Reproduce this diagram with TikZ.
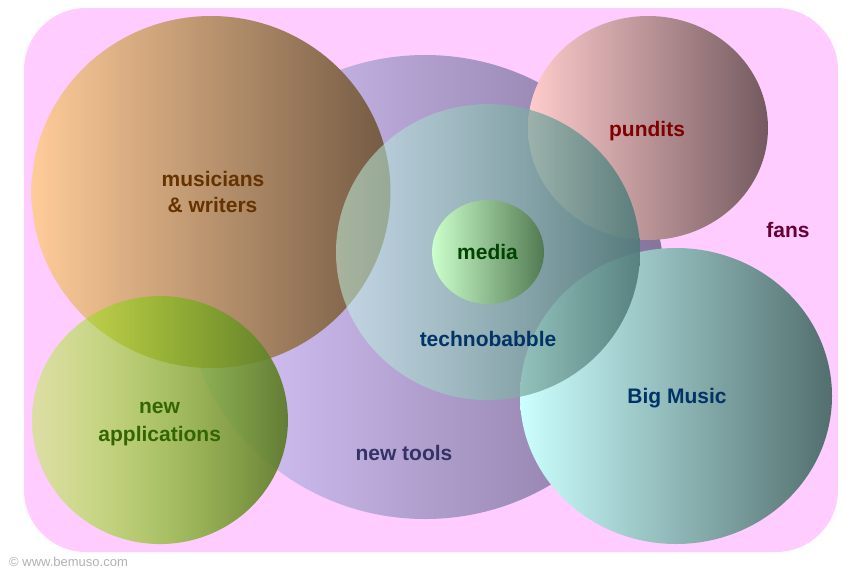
\documentclass[tikz,border=0pt]{standalone}
\usepackage{fontspec}
\setmainfont{Liberation Sans}
\usetikzlibrary{shapes.geometric,fadings}
\definecolor{bgpink}{HTML}{FFCCFF}
\definecolor{toolsL}{HTML}{DCCAFF}
\definecolor{toolsR}{HTML}{84749C}
\definecolor{musL}{HTML}{FFCC99}
\definecolor{musR}{HTML}{735A43}
\definecolor{punL}{HTML}{FFCCCC}
\definecolor{punR}{HTML}{735A60}
\definecolor{techL}{HTML}{C8FCEB}
\definecolor{techR}{HTML}{507A78}
\definecolor{medL}{HTML}{CCFFCC}
\definecolor{medR}{HTML}{527A52}
\definecolor{bigL}{HTML}{CCFFFF}
\definecolor{bigR}{HTML}{526E6E}
\definecolor{appL}{HTML}{A0FF00}
\definecolor{appM}{HTML}{94B040}
\definecolor{appR}{HTML}{5E7A2C}
\definecolor{tMus}{HTML}{663300}
\definecolor{tPun}{HTML}{800000}
\definecolor{tFans}{HTML}{660033}
\definecolor{tMed}{HTML}{004400}
\definecolor{tBlue}{HTML}{003366}
\definecolor{tApp}{HTML}{336600}
\definecolor{tTools}{HTML}{333366}
\tikzfading[name=techfade, left color=transparent!50, right color=transparent!10]
\tikzfading[name=appfade, left color=transparent!65, middle color=transparent!45, right color=transparent!5]
\tikzset{
  blob/.style={ellipse, inner sep=0pt, draw=none},
  lbl/.style={font=\bfseries\fontsize{21}{26}\selectfont, anchor=base, inner sep=0pt}
}
\begin{document}
\begin{tikzpicture}[x=1pt,y=-1pt]
\useasboundingbox (0,0) rectangle (864,576);
\fill[white] (0,0) rectangle (864,576);
\fill[bgpink, rounded corners=62pt] (24,8) rectangle (838,552);
% new tools
\node[blob, minimum width=480pt, minimum height=464pt, left color=toolsL, right color=toolsR] (tools) at (425,287) {};
% musicians
\node[blob, minimum width=359pt, minimum height=352pt, left color=musL, right color=musR] (mus) at (211,192) {};
% pundits
\node[blob, minimum width=240pt, minimum height=224pt, left color=punL, right color=punR] (pun) at (648,128) {};
% Big Music
\node[blob, minimum width=312pt, minimum height=296pt, left color=bigL, right color=bigR] (big) at (676,396) {};
% technobabble
\node[blob, minimum width=304pt, minimum height=296pt, left color=techL, right color=techR, path fading=techfade] (tech) at (488,252) {};
% media
\node[blob, minimum width=112pt, minimum height=104pt, left color=medL, right color=medR] (med) at (488,252) {};
% new applications
\node[blob, minimum width=256pt, minimum height=248pt, left color=appL, middle color=appM, right color=appR, path fading=appfade] (app) at (160,420) {};
% labels
\node[lbl, text=tMus] (lmus1) at (213,186.7) {musicians};
\node[lbl, text=tMus] (lmus2) at (212.5,212.7) {\& writers};
\node[lbl, text=tPun] (lpun) at (647,136) {pundits};
\node[lbl, text=tFans] (lfans) at (788,237) {fans};
\node[lbl, text=tMed] (lmed) at (487.5,259.3) {media};
\node[lbl, text=tBlue] (ltech) at (488,346.7) {technobabble};
\node[lbl, text=tBlue] (lbig) at (677,403.5) {Big Music};
\node[lbl, text=tApp] (lapp1) at (159.5,413.3) {new};
\node[lbl, text=tApp] (lapp2) at (159.7,441) {applications};
\node[lbl, text=tTools] (ltools) at (404,460.7) {new tools};
\node[anchor=base west, inner sep=0pt, text=black!30, font=\fontsize{13}{15}\selectfont] (copy) at (9,566.5) {© www.bemuso.com};
\end{tikzpicture}
\end{document}
